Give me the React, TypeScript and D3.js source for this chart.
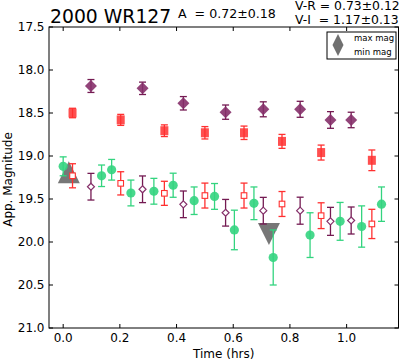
import React from "react";
import * as d3 from "d3";

// ---- data ----
const diamondTimes = [0.098, 0.28, 0.424, 0.573, 0.706, 0.836, 0.943, 1.016];
const diamondMag = [18.186, 18.213, 18.387, 18.49, 18.457, 18.457, 18.581, 18.581];
const diamondErr = [0.075, 0.072, 0.078, 0.083, 0.087, 0.093, 0.097, 0.09];

const squareTimes = [0.033, 0.203, 0.357, 0.5, 0.638, 0.772, 0.91, 1.089];
const squareMag = [18.5, 18.58, 18.706, 18.73, 18.73, 18.83, 18.96, 19.05];
const squareErr = [0.055, 0.064, 0.068, 0.072, 0.078, 0.081, 0.087, 0.12];

const openDiamondMag = [19.357, 19.387, 19.562, 19.66, 19.636, 19.636, 19.76, 19.75];
const openDiamondErr = [0.155, 0.155, 0.155, 0.155, 0.155, 0.157, 0.163, 0.157];

const openSquareMag = [19.23, 19.318, 19.434, 19.46, 19.46, 19.558, 19.694, 19.79];
const openSquareErr = [0.14, 0.135, 0.14, 0.145, 0.145, 0.145, 0.15, 0.17];

const circleTimes = [0.0, 0.1355, 0.171, 0.239, 0.32, 0.388, 0.462, 0.534, 0.604, 0.673, 0.741, 0.871, 0.977, 1.053, 1.123];
const circleMag = [19.12, 19.23, 19.16, 19.43, 19.41, 19.34, 19.52, 19.47, 19.86, 19.55, 20.18, 19.92, 19.76, 19.82, 19.56];
const circleErr = [0.11, 0.125, 0.12, 0.15, 0.15, 0.14, 0.16, 0.15, 0.23, 0.19, 0.32, 0.26, 0.22, 0.24, 0.2];

const maxMagPoint = [0.02, 19.19];
const minMagPoint = [0.726, 19.907];

const xTicks = [0, 0.2, 0.4, 0.6, 0.8, 1.0];
const yTicks = [17.5, 18.0, 18.5, 19.0, 19.5, 20.0, 20.5, 21.0];

const titleText = "2000 WR127";
const ampText = "A  = 0.72\u00b10.18";
const vrText = "V-R = 0.73\u00b10.12";
const viText = "V-I  = 1.17\u00b10.13";

// ---- layout ----
const W = 401, H = 362;
const L = 49, R = 398.5, T = 27, B = 328;
const font = "DejaVu Sans, sans-serif";

const purple = "#86306a";
const purpleDark = "#741a52";
const red = "#ff3030";
const green = "#33d47f";
const gray = "#707070";

export default function App() {
  const x = d3.scaleLinear().domain([-0.05, 1.183]).range([L, R]);
  const y = d3.scaleLinear().domain([17.5, 21]).range([T, B]);

  const errBar = (t: number, m: number, e: number, color: string, key: string) => (
    <g key={key} stroke={color} strokeWidth={1.3} fill="none">
      <line x1={x(t)} x2={x(t)} y1={y(m - e)} y2={y(m + e)} />
      <line x1={x(t) - 3.5} x2={x(t) + 3.5} y1={y(m - e)} y2={y(m - e)} />
      <line x1={x(t) - 3.5} x2={x(t) + 3.5} y1={y(m + e)} y2={y(m + e)} />
    </g>
  );

  const tri = (cx: number, cy: number, s: number, up: boolean) => {
    const h = s;
    const pts = up
      ? [[cx, cy - h / 2], [cx - s / 2, cy + h / 2], [cx + s / 2, cy + h / 2]]
      : [[cx, cy + h / 2], [cx - s / 2, cy - h / 2], [cx + s / 2, cy - h / 2]];
    return pts.map((p) => p.join(",")).join(" ");
  };

  return (
    <svg width={W} height={H} style={{ position: "absolute", left: 0, top: 0, background: "#fff" }}>
      <rect x={0} y={0} width={W} height={H} fill="#fff" />
      {/* triangles */}
      <polygon points={tri(x(maxMagPoint[0]), y(maxMagPoint[1]), 22, true)} fill={gray} opacity={0.95} />
      <polygon points={tri(x(minMagPoint[0]), y(minMagPoint[1]), 22, false)} fill={gray} opacity={0.95} />

      {/* filled squares */}
      {squareTimes.map((t, i) => (
        <g key={"fs" + i}>
          {errBar(t, squareMag[i], squareErr[i], red, "e")}
          <rect x={x(t) - 4} y={y(squareMag[i]) - 4.5} width={8} height={9} fill={red} opacity={0.85} />
        </g>
      ))}
      {/* filled diamonds */}
      {diamondTimes.map((t, i) => (
        <g key={"fd" + i}>
          {errBar(t, diamondMag[i], diamondErr[i], purpleDark, "e")}
          <polygon
            points={`${x(t)},${y(diamondMag[i]) - 6} ${x(t) + 6},${y(diamondMag[i])} ${x(t)},${y(diamondMag[i]) + 6} ${x(t) - 6},${y(diamondMag[i])}`}
            fill={purple}
            opacity={0.9}
          />
        </g>
      ))}
      {/* open diamonds */}
      {diamondTimes.map((t, i) => (
        <g key={"od" + i}>
          {errBar(t, openDiamondMag[i], openDiamondErr[i], purpleDark, "e")}
          <polygon
            points={`${x(t)},${y(openDiamondMag[i]) - 3.5} ${x(t) + 3.5},${y(openDiamondMag[i])} ${x(t)},${y(openDiamondMag[i]) + 3.5} ${x(t) - 3.5},${y(openDiamondMag[i])}`}
            fill="#fff"
            stroke={purple}
            strokeWidth={1.2}
          />
        </g>
      ))}
      {/* open squares */}
      {squareTimes.map((t, i) => (
        <g key={"os" + i}>
          {errBar(t, openSquareMag[i], openSquareErr[i], red, "e")}
          <rect x={x(t) - 2.8} y={y(openSquareMag[i]) - 2.8} width={5.6} height={5.6} fill="#fff" stroke={red} strokeWidth={1.1} />
        </g>
      ))}
      {/* circles */}
      {circleTimes.map((t, i) => (
        <g key={"c" + i}>
          {errBar(t, circleMag[i], circleErr[i], green, "e")}
          <circle cx={x(t)} cy={y(circleMag[i])} r={4.6} fill={green} opacity={0.9} />
        </g>
      ))}

      {/* frame */}
      <rect x={L} y={T} width={R - L} height={B - T} fill="none" stroke="#000" strokeWidth={1} />
      {xTicks.map((t) => (
        <g key={"xt" + t}>
          <line x1={x(t)} x2={x(t)} y1={B} y2={B - 4} stroke="#000" />
          <line x1={x(t)} x2={x(t)} y1={T} y2={T + 4} stroke="#000" />
          <text x={x(t)} y={342} textAnchor="middle" fontFamily={font} fontSize={12}>
            {t.toFixed(1)}
          </text>
        </g>
      ))}
      {yTicks.map((m) => (
        <g key={"yt" + m}>
          <line x1={L} x2={L + 4} y1={y(m)} y2={y(m)} stroke="#000" />
          <line x1={R} x2={R - 4} y1={y(m)} y2={y(m)} stroke="#000" />
          <text x={44.5} y={y(m) + 4.3} textAnchor="end" fontFamily={font} fontSize={12}>
            {m.toFixed(1)}
          </text>
        </g>
      ))}
      <text x={(L + R) / 2} y={358} textAnchor="middle" fontFamily={font} fontSize={12}>
        Time (hrs)
      </text>
      <text transform={`translate(11.5,${(T + B) / 2 + 2}) rotate(-90)`} textAnchor="middle" fontFamily={font} fontSize={12}>
        App. Magnitude
      </text>

      {/* titles */}
      <text x={50} y={22.7} fontFamily={font} fontSize={18.8}>{titleText}</text>
      <text x={178} y={17.5} fontFamily={font} fontSize={12.6} style={{ whiteSpace: "pre" }}>{ampText}</text>
      <text x={295} y={9.6} fontFamily={font} fontSize={12.4} style={{ whiteSpace: "pre" }}>{vrText}</text>
      <text x={295} y={23.8} fontFamily={font} fontSize={12.4} style={{ whiteSpace: "pre" }}>{viText}</text>

      {/* legend */}
      <rect x={327} y={32} width={69} height={27} fill="#fff" stroke="#000" strokeWidth={1} />
      <polygon points={tri(338, 39.5, 11, true)} fill={gray} />
      <polygon points={tri(338, 50.5, 11, false)} fill={gray} />
      <text x={354} y={41} fontFamily={font} fontSize={8.5}>max mag</text>
      <text x={354} y={55} fontFamily={font} fontSize={8.5}>min mag</text>
    </svg>
  );
}
